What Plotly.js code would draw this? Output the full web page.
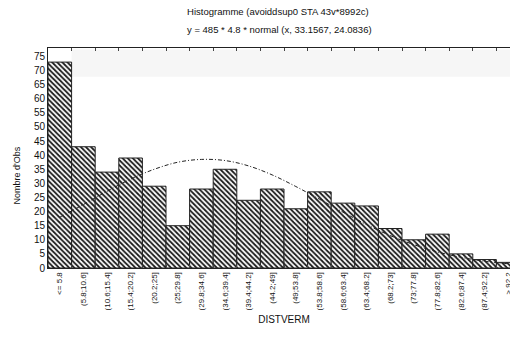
<!DOCTYPE html>
<html>
<head>
<meta charset="utf-8">
<script src="https://cdn.plot.ly/plotly-3.0.1.min.js"></script>
<style>
html,body{margin:0;padding:0;overflow:hidden;background:#fff;}
#chart{width:522px;height:345px;}
</style>
</head>
<body>
<div id="chart"></div>
<script>
const categories = ["<= 5.8","(5.8;10.6]","(10.6;15.4]","(15.4;20.2]","(20.2;25]","(25;29.8]","(29.8;34.6]","(34.6;39.4]","(39.4;44.2]","(44.2;49]","(49;53.8]","(53.8;58.6]","(58.6;63.4]","(63.4;68.2]","(68.2;73]","(73;77.8]","(77.8;82.6]","(82.6;87.4]","(87.4;92.2]","> 92.2"];
const counts = [73,43,34,39,29,15,28,35,24,28,21,27,23,22,14,10,12,5,3,2];
const normalFit = [18.0,22.5,27.2,31.5,35.0,37.5,38.5,38.1,36.2,33.0,28.9,24.4,19.8,15.4,11.5,8.3,5.7,3.8,2.4,1.5];
const yTicks = [0,5,10,15,20,25,30,35,40,45,50,55,60,65,70,75];

const font = "Liberation Sans, Arial, sans-serif";

const bars = {
  type: "bar",
  x: categories,
  y: counts,
  marker: {
    color: "#ffffff",
    line: {color: "#222222", width: 1},
    pattern: {shape: "\\", fgcolor: "#1a1a1a", bgcolor: "#ffffff", size: 3.6, solidity: 0.5}
  },
  hoverinfo: "skip",
  showlegend: false
};

const curve = {
  type: "scatter",
  mode: "lines",
  x: categories,
  y: normalFit,
  line: {color: "#222222", width: 1, dash: "4px,2px,1px,2px", shape: "spline"},
  hoverinfo: "skip",
  showlegend: false
};

const layout = {
  width: 522,
  height: 345,
  autosize: false,
  paper_bgcolor: "#ffffff",
  plot_bgcolor: "#ffffff",
  margin: {l: 48, r: 2, t: 48, b: 77, pad: 0},
  bargap: 0,
  font: {family: font, color: "#111111", size: 9},
  title: {
    text: "Histogramme (avoiddsup0 STA 43v*8992c)",
    font: {family: font, size: 9.5, color: "#111111"},
    x: 0.487, xanchor: "center", xref: "paper",
    y: 0.965, yanchor: "middle", yref: "container"
  },
  annotations: [
    {text: "y = 485 * 4.8 * normal (x, 33.1567, 24.0836)", xref: "paper", yref: "paper",
     x: 0.49, y: 1.083, xanchor: "center", yanchor: "middle", showarrow: false,
     font: {family: font, size: 9.5, color: "#111111"}},
    {text: "Nombre d'Obs", xref: "paper", yref: "paper",
     x: -0.066, y: 0.42, xanchor: "center", yanchor: "middle", textangle: -90, showarrow: false,
     font: {family: font, size: 9, color: "#111111"}}
  ],
  shapes: [
    {type: "rect", xref: "paper", yref: "y", x0: 0.05, x1: 1, y0: 67.8, y1: 77.5,
     fillcolor: "#f6f6f6", line: {width: 0}, layer: "below"}
  ],
  xaxis: {
    type: "category",
    range: [-0.5, 19.5],
    showline: true, linecolor: "#222222", linewidth: 1, mirror: "ticks",
    ticks: "inside", ticklen: 3, tickcolor: "#444444", tickson: "boundaries",
    tickangle: -90,
    tickfont: {family: font, size: 8, color: "#111111"},
    showgrid: false, zeroline: false,
    title: {text: "DISTVERM", font: {family: font, size: 10, color: "#111111"}, standoff: 6}
  },
  yaxis: {
    range: [0, 78],
    tickvals: yTicks,
    ticktext: yTicks.map(String),
    showline: true, linecolor: "#222222", linewidth: 1, mirror: true,
    ticks: "",
    tickfont: {family: font, size: 10, color: "#111111"},
    showgrid: false, zeroline: false
  }
};

Plotly.newPlot("chart", [bars, curve], layout, {displayModeBar: false, staticPlot: true});
</script>
</body>
</html>
